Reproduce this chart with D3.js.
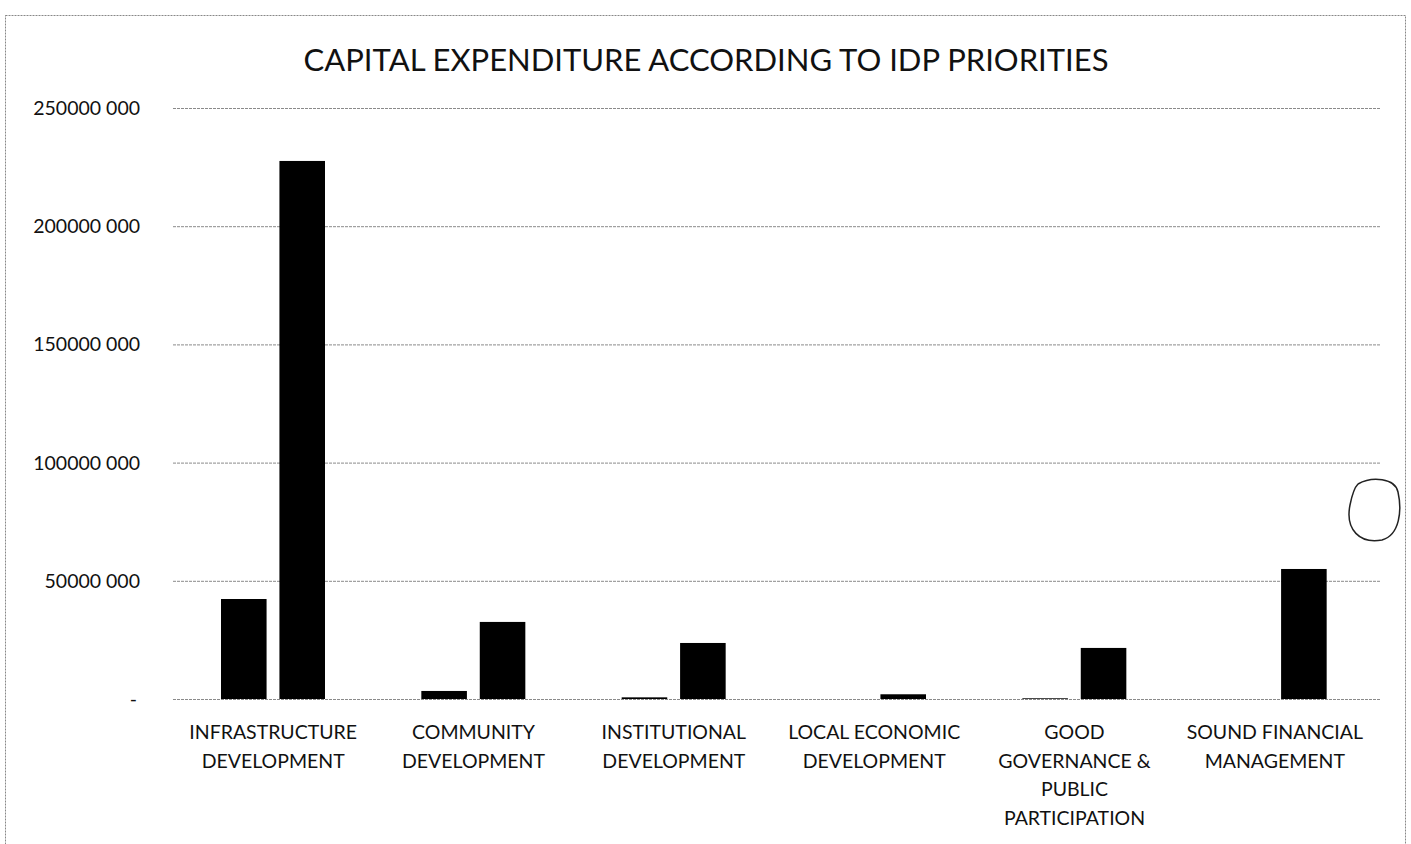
<!DOCTYPE html>
<html><head><meta charset="utf-8">
<script src="https://cdn.jsdelivr.net/npm/d3@7"></script>
<style>body{margin:0;background:#fff}svg{display:block}</style>
</head><body>
<svg id="c" width="1411" height="844"></svg>
<script>
const categories = [
  ["INFRASTRUCTURE","DEVELOPMENT"],
  ["COMMUNITY","DEVELOPMENT"],
  ["INSTITUTIONAL","DEVELOPMENT"],
  ["LOCAL ECONOMIC","DEVELOPMENT"],
  ["GOOD","GOVERNANCE &","PUBLIC","PARTICIPATION"],
  ["SOUND FINANCIAL","MANAGEMENT"]
];
const series1 = [42300000, 3400000, 700000, 0, 300000, 0];
const series2 = [227600000, 32600000, 23700000, 2000000, 21600000, 55000000];
const yTicks = [0, 50000000, 100000000, 150000000, 200000000, 250000000];
const title = "CAPITAL EXPENDITURE ACCORDING TO IDP PRIORITIES";

const svg = d3.select("#c");
const font = "Lato, 'Open Sans', sans-serif";
// frame
svg.append("rect").attr("x",5.5).attr("y",15.5).attr("width",1400).attr("height",840)
  .attr("fill","none").attr("stroke","#888").attr("stroke-width",1).attr("stroke-dasharray","2,1");

const x0 = d3.scaleBand().domain(d3.range(categories.length)).range([173,1375]).paddingInner(0).paddingOuter(0);
const y = d3.scaleLinear().domain([0,250000000]).range([699,108]);
const x1 = d3.scaleBand().domain([0,1]).range([0,104]).paddingInner(0.22);
const groupOff = 48;

// gridlines
svg.append("g").selectAll("line").data(yTicks).join("line")
  .attr("x1",173).attr("x2",1380).attr("y1",d=>y(d)+0.5).attr("y2",d=>y(d)+0.5)
  .attr("stroke","#8a8a8a").attr("stroke-width",1).attr("stroke-dasharray","3,1");

// y labels
const fmt = d => d===0 ? "-" : (Math.floor(d/1000)+" "+String(d%1000).padStart(3,"0"));
svg.append("g").selectAll("text").data(yTicks).join("text")
  .attr("x",d=>d===0?137:140).attr("y",d=>y(d)+7).attr("text-anchor","end")
  .attr("font-family",font).attr("font-size",19.5).attr("fill","#111")
  .text(fmt);

// bars
const groups = svg.append("g").selectAll("g").data(categories.map((c,i)=>i)).join("g")
  .attr("transform",i=>`translate(${x0(i)+groupOff},0)`);
groups.selectAll("rect").data(i=>[series1[i],series2[i]]).join("rect")
  .attr("x",(d,j)=>x1(j)).attr("width",x1.bandwidth())
  .attr("y",d=>y(d)).attr("height",d=>y(0)-y(d)).attr("fill","#000");

// x labels
const xl = svg.append("g").selectAll("text").data(categories).join("text")
  .attr("text-anchor","middle").attr("font-family",font).attr("font-size",19.5).attr("fill","#111")
  .attr("transform",(d,i)=>`translate(${x0(i)+x0.bandwidth()/2},0)`);
xl.selectAll("tspan").data(d=>d).join("tspan")
  .attr("x",0).attr("y",(d,k)=>739+k*28.5).text(d=>d);

// title
svg.append("text").attr("x",706).attr("y",71).attr("text-anchor","middle")
  .attr("font-family",font).attr("font-size",31).attr("fill","#111").text(title);

// hand-drawn mark
svg.append("path").attr("d","M1358,484 C1372,476 1395,478 1398,492 C1402,510 1400,535 1382,540 C1360,544 1345,530 1350,505 C1352,495 1354,488 1358,484")
  .attr("fill","none").attr("stroke","#222").attr("stroke-width",1.5);
</script>
</body></html>
